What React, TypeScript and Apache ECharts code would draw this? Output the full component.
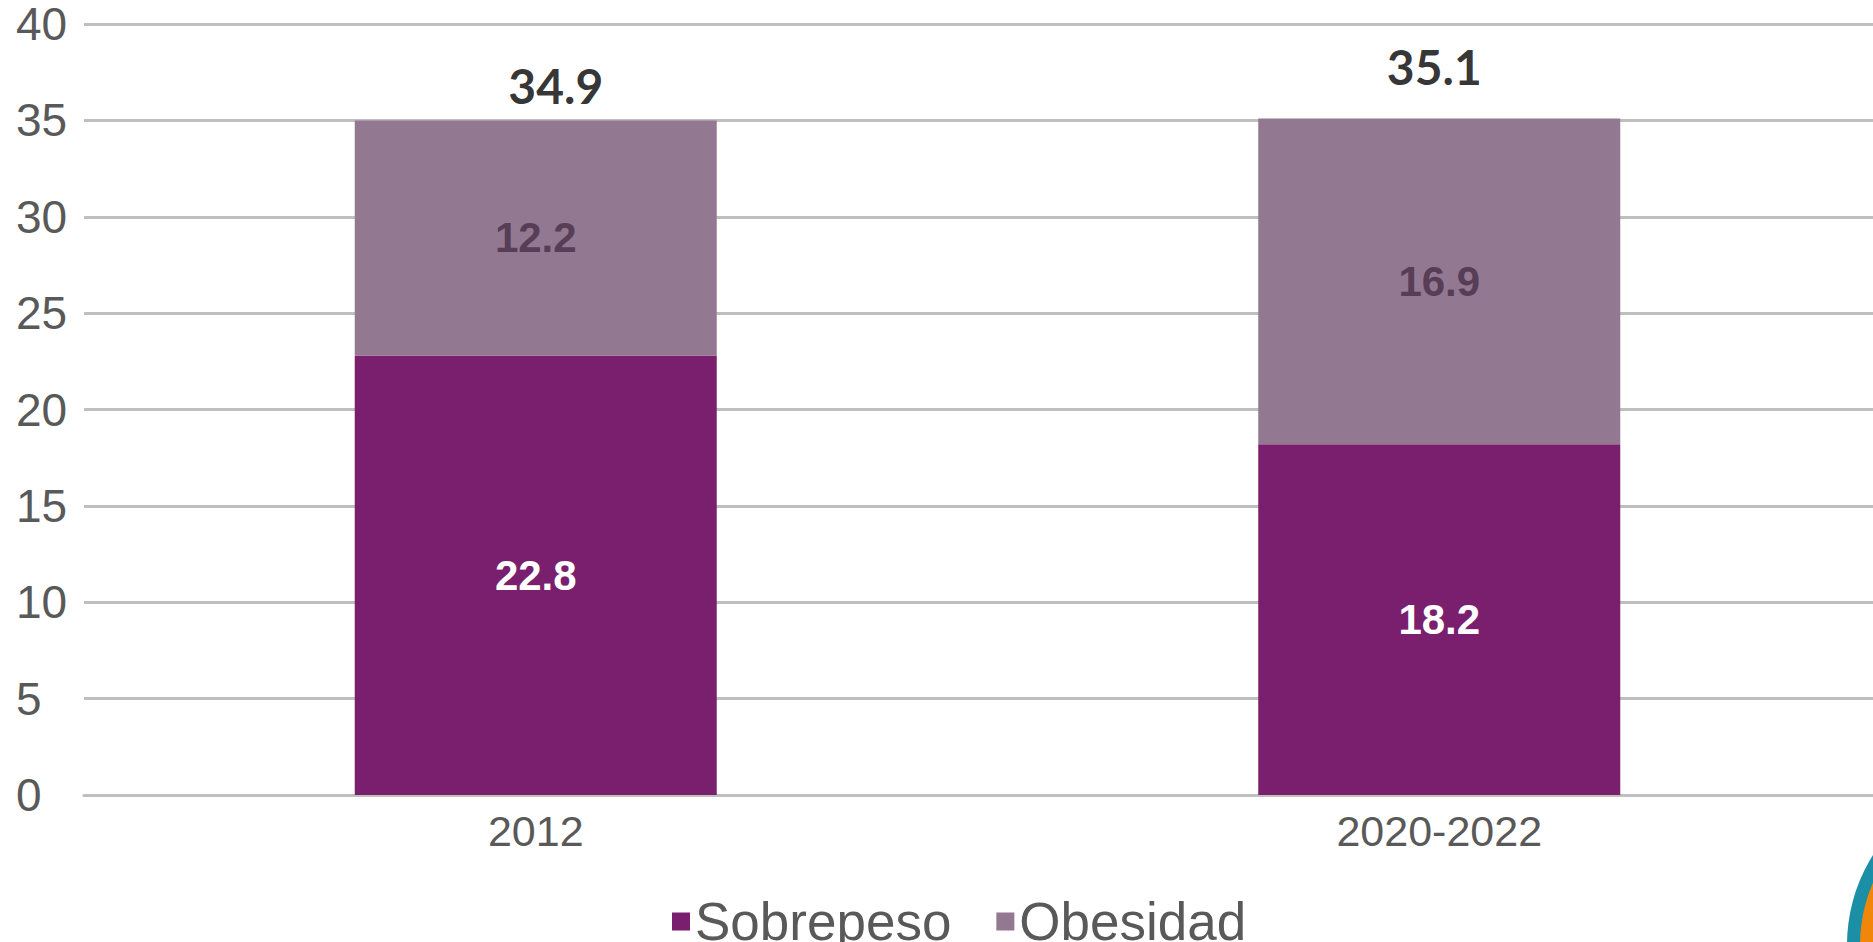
import React, { useEffect, useRef } from "react";
import * as echarts from "echarts";

const categories = ["2012", "2020-2022"];
const sobrepeso = [22.8, 18.2];
const obesidad = [12.2, 16.9];
const totals = [34.9, 35.1];
const totalOffsets: [number, number][] = [
  [20, -37],
  [-5, -52],
];
const yTicks = { min: 0, max: 40, interval: 5 };

export default function App() {
  const ref = useRef<HTMLDivElement>(null);
  useEffect(() => {
    if (!ref.current) return;
    const chart = echarts.init(ref.current, undefined, { renderer: "svg" });
    chart.setOption({
      animation: false,
      backgroundColor: "#ffffff",
      grid: { left: 84, right: 16, top: 24, bottom: 147, containLabel: false },
      legend: {
        data: ["Sobrepeso", "Obesidad"],
        left: 667,
        top: 890,
        itemWidth: 18,
        itemHeight: 18,
        itemGap: 45,
        icon: "rect",
        textStyle: {
          fontFamily: "'Liberation Sans', Arial, sans-serif",
          fontSize: 53,
          lineHeight: 44,
          color: "#595959",
        },
      },
      xAxis: {
        type: "category",
        data: categories,
        axisTick: { show: false },
        axisLine: { lineStyle: { color: "#bfbfbf", width: 3 } },
        axisLabel: {
          fontFamily: "'Liberation Sans', Arial, sans-serif",
          fontSize: 43,
          color: "#595959",
          margin: 36,
          verticalAlign: "middle",
        },
      },
      yAxis: {
        type: "value",
        min: yTicks.min,
        max: yTicks.max,
        interval: yTicks.interval,
        axisLine: { show: false },
        axisTick: { show: false },
        splitLine: { lineStyle: { color: "#bfbfbf", width: 3 } },
        axisLabel: {
          fontFamily: "'Liberation Sans', Arial, sans-serif",
          fontSize: 46,
          lineHeight: 40,
          color: "#595959",
          align: "left",
          margin: 68,
        },
      },
      series: [
        {
          name: "Sobrepeso",
          type: "bar",
          stack: "total",
          barWidth: 362,
          data: sobrepeso,
          itemStyle: { color: "#7a1f6e" },
          label: {
            show: true,
            position: "inside",
            fontFamily: "'Liberation Sans', Arial, sans-serif",
            fontWeight: "bold",
            fontSize: 42,
            color: "#ffffff",
          },
        },
        {
          name: "Obesidad",
          type: "bar",
          stack: "total",
          barWidth: 362,
          data: obesidad,
          itemStyle: { color: "#937891" },
          label: {
            show: true,
            position: "inside",
            fontFamily: "'Liberation Sans', Arial, sans-serif",
            fontWeight: "bold",
            fontSize: 42,
            color: "#573d56",
          },
        },
        {
          name: "Total",
          type: "scatter",
          symbolSize: 0,
          data: totals.map((v, i) => ({
            value: v,
            label: { offset: totalOffsets[i] },
          })),
          label: {
            show: true,
            position: "inside",
            fontFamily: "Lato, 'Open Sans', sans-serif",
            fontWeight: "bold",
            fontSize: 48,
            color: "#000000",
            formatter: (p: any) => String(p.value),
          },
          z: 5,
        },
      ],
      graphic: [
        {
          type: "circle",
          shape: { cx: 2016, cy: 945, r: 169 },
          style: { fill: "#1b8fa5" },
          z: 1,
        },
        {
          type: "circle",
          shape: { cx: 2016, cy: 945, r: 156 },
          style: { fill: "#f0870a" },
          z: 2,
        },
      ],
    });
    return () => chart.dispose();
  }, []);
  return (
    <div
      style={{
        position: "absolute",
        left: 0,
        top: 0,
        width: 1873,
        height: 942,
        overflow: "hidden",
      }}
    >
      <div ref={ref} style={{ width: 1907, height: 942 }} />
    </div>
  );
}
